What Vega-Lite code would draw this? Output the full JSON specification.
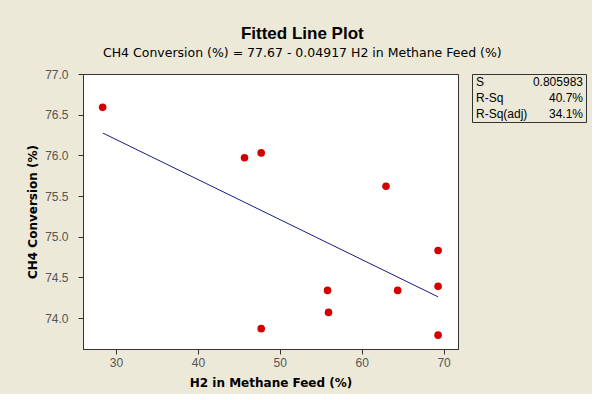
{
  "$schema": "https://vega.github.io/schema/vega-lite/v6.json",
  "background": "#ECE9D8",
  "padding": {"left": 26, "top": 25, "right": 5, "bottom": 5},
  "title": {
    "text": "Fitted Line Plot",
    "subtitle": "CH4 Conversion (%) =  77.67 - 0.04917 H2 in Methane Feed (%)",
    "anchor": "middle",
    "dx": -4,
    "font": "Liberation Sans",
    "fontSize": 17,
    "fontWeight": "bold",
    "color": "#000000",
    "subtitleFont": "DejaVu Sans",
    "subtitleFontSize": 12.5,
    "subtitleColor": "#000000",
    "subtitlePadding": 4,
    "offset": 7
  },
  "config": {
    "font": "Liberation Sans",
    "axis": {
      "labelFont": "Liberation Sans",
      "labelFontSize": 12,
      "labelColor": "#555555",
      "titleFont": "DejaVu Sans",
      "titleFontSize": 12,
      "titleFontWeight": "bold",
      "titleColor": "#000000",
      "domainColor": "#333333",
      "tickColor": "#333333",
      "tickSize": 5,
      "grid": false
    }
  },
  "bounds": "flush",
  "spacing": 14,
  "hconcat": [
    {
      "width": 375,
      "height": 275,
      "view": {"fill": "#FFFFFF", "stroke": "#333333", "strokeWidth": 1},
      "layer": [
        {
          "data": {"values": [
            {"h2": 28.4, "fit": 76.274},
            {"h2": 69.33, "fit": 74.261}
          ]},
          "mark": {"type": "line", "color": "#1a1a80", "strokeWidth": 1},
          "encoding": {
            "x": {"field": "h2", "type": "quantitative"},
            "y": {"field": "fit", "type": "quantitative"}
          }
        },
        {
          "data": {"values": [
            {"h2": 28.37, "conv": 76.59},
            {"h2": 45.69, "conv": 75.97},
            {"h2": 47.73, "conv": 76.03},
            {"h2": 62.97, "conv": 75.62},
            {"h2": 69.33, "conv": 74.83},
            {"h2": 55.83, "conv": 74.34},
            {"h2": 64.39, "conv": 74.34},
            {"h2": 69.33, "conv": 74.39},
            {"h2": 55.95, "conv": 74.07},
            {"h2": 47.73, "conv": 73.87},
            {"h2": 69.33, "conv": 73.79}
          ]},
          "mark": {"type": "point", "filled": true, "shape": "circle", "color": "#D40000", "opacity": 1, "size": 58},
          "encoding": {
            "x": {
              "field": "h2", "type": "quantitative",
              "title": "H2 in Methane Feed (%)",
              "scale": {"domain": [25.97, 71.76], "nice": false, "zero": false},
              "axis": {"values": [30, 40, 50, 60, 70], "labelPadding": 3, "titlePadding": 9}
            },
            "y": {
              "field": "conv", "type": "quantitative",
              "title": "CH4 Conversion (%)",
              "scale": {"domain": [73.62, 77.0], "nice": false, "zero": false},
              "axis": {"values": [74.0, 74.5, 75.0, 75.5, 76.0, 76.5, 77.0], "format": ".1f", "labelPadding": 10, "titlePadding": 5}
            }
          }
        }
      ]
    },
    {
      "width": 114,
      "height": 48,
      "view": {"fill": null, "stroke": "#333333", "strokeWidth": 1},
      "data": {"values": [
        {"stat": "S", "val": "0.805983", "ord": 1},
        {"stat": "R-Sq", "val": "40.7%", "ord": 2},
        {"stat": "R-Sq(adj)", "val": "34.1%", "ord": 3}
      ]},
      "encoding": {
        "y": {"field": "stat", "type": "nominal", "sort": {"field": "ord"}, "scale": {"paddingInner": 0, "paddingOuter": 0}, "axis": null}
      },
      "layer": [
        {
          "mark": {"type": "text", "align": "left", "dx": 4, "fontSize": 12, "color": "#000000"},
          "encoding": {
            "x": {"datum": 0, "type": "quantitative", "scale": {"domain": [0, 1]}, "axis": null},
            "text": {"field": "stat"}
          }
        },
        {
          "mark": {"type": "text", "align": "right", "dx": -3, "fontSize": 12, "color": "#000000"},
          "encoding": {
            "x": {"datum": 1, "type": "quantitative"},
            "text": {"field": "val"}
          }
        }
      ]
    }
  ]
}
